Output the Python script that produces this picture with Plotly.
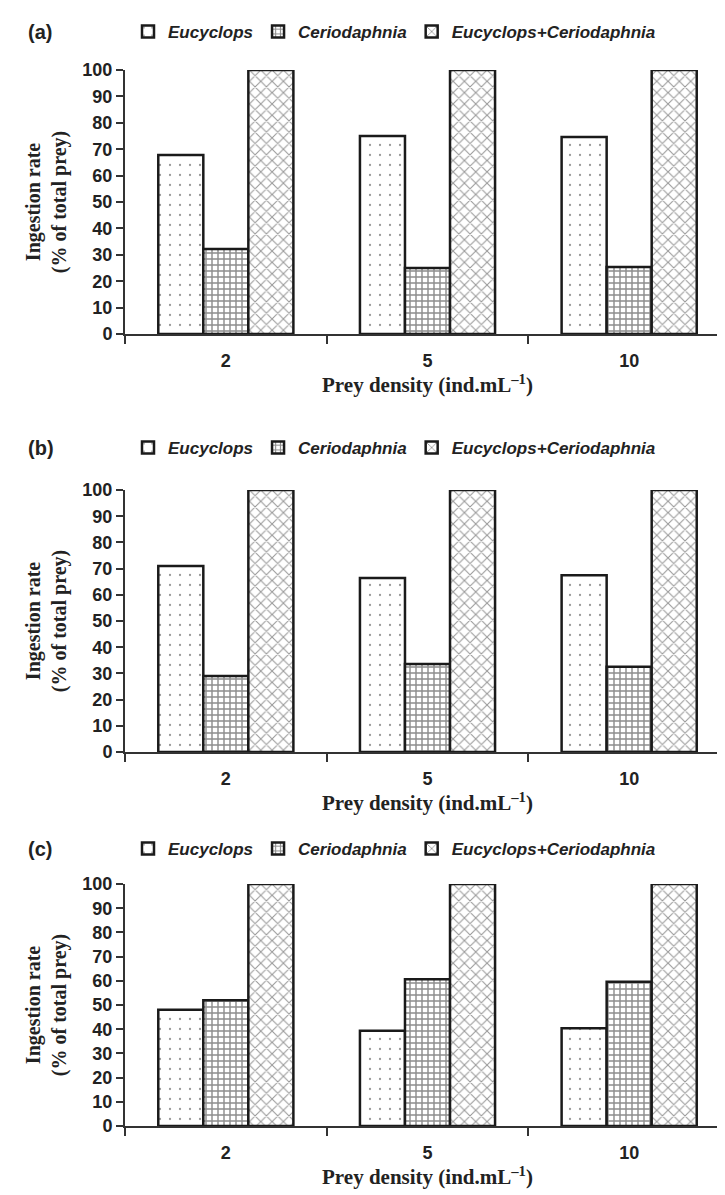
import plotly.graph_objects as go

W, H = 725, 1195

categories = ["2", "5", "10"]
series_names = ["Eucyclops", "Ceriodaphnia", "Eucyclops+Ceriodaphnia"]

a_eucyclops = [67.8, 75.0, 74.6]
a_ceriodaphnia = [32.2, 25.0, 25.4]
a_combined = [100, 100, 100]

b_eucyclops = [71.0, 66.4, 67.5]
b_ceriodaphnia = [29.0, 33.6, 32.5]
b_combined = [100, 100, 100]

c_eucyclops = [48.0, 39.4, 40.4]
c_ceriodaphnia = [52.0, 60.6, 59.6]
c_combined = [100, 100, 100]

panel_labels = ["(a)", "(b)", "(c)"]
y_tickvals = list(range(0, 101, 10))

panels_data = [
    [a_eucyclops, a_ceriodaphnia, a_combined],
    [b_eucyclops, b_ceriodaphnia, b_combined],
    [c_eucyclops, c_ceriodaphnia, c_combined],
]

# pixel layout (top of plot, bottom of plot, legend centre line)
panel_px = [
    dict(top=62, bottom=326, leg=24),
    dict(top=482, bottom=744, leg=440),
    dict(top=876, bottom=1118, leg=841),
]
x_left, x_right = 117, 722

SANS = "Liberation Sans, Arial, sans-serif"
SERIF = "Liberation Serif, Times New Roman, serif"

patterns = [
    dict(shape=".", size=10, solidity=0.04, fgcolor="#333", bgcolor="white"),
    dict(shape="+", size=6, solidity=0.42, fgcolor="#1a1a1a", bgcolor="white"),
    dict(shape="x", size=8, solidity=0.25, fgcolor="#333", bgcolor="white"),
]


def py(p):
    return 1 - p / H


fig = go.Figure()
layout = dict(
    width=W, height=H,
    margin=dict(l=0, r=0, t=0, b=0),
    paper_bgcolor="white", plot_bgcolor="white",
    barmode="group", bargap=0.33, bargroupgap=0,
    showlegend=True,
    annotations=[],
)

for i, vals in enumerate(panels_data):
    suf = "" if i == 0 else str(i + 1)
    for j, name in enumerate(series_names):
        fig.add_trace(go.Bar(
            x=categories, y=vals[j], name=name,
            xaxis="x" + suf, yaxis="y" + suf,
            legend="legend" + suf,
            marker=dict(color="white", line=dict(color="#1a1a1a", width=2.5),
                        pattern=patterns[j]),
            hoverinfo="skip",
        ))
    p = panel_px[i]
    layout["xaxis" + suf] = dict(
        domain=[x_left / W, x_right / W], anchor="y" + suf,
        type="category", tickson="boundaries",
        ticks="outside", ticklen=8, tickwidth=2, tickcolor="#333",
        ticklabelstandoff=9,
        showline=True, linewidth=2, linecolor="#333",
        showgrid=False, zeroline=False, automargin=False,
        tickfont=dict(family=SANS, size=18, color="#222", weight="bold"),
        title=dict(text="Prey density (ind.mL<sup>\u20131</sup>)", standoff=5,
                   font=dict(family=SERIF, size=21, color="#222", weight="bold")),
    )
    layout["yaxis" + suf] = dict(
        domain=[py(p["bottom"]), py(p["top"])], anchor="x" + suf,
        range=[0, 100], tickvals=y_tickvals,
        ticks="outside", ticklen=7, tickwidth=2, tickcolor="#333",
        showline=True, linewidth=2, linecolor="#333",
        showgrid=False, zeroline=False, automargin=False,
        tickfont=dict(family=SANS, size=18, color="#222", weight="bold"),
        title=dict(text="Ingestion rate<br>(% of total prey)", standoff=10,
                   font=dict(family=SERIF, size=20, color="#222", weight="bold")),
    )
    layout["legend" + suf] = dict(
        orientation="h", x=120 / W, xanchor="left",
        y=py(p["leg"]), yanchor="middle",
        font=dict(family=SANS, size=17, color="#222", weight="bold", style="italic"),
        bgcolor="rgba(0,0,0,0)", itemwidth=30, tracegroupgap=0,
    )
    layout["annotations"].append(dict(
        text=panel_labels[i], xref="paper", yref="paper",
        x=18 / W, y=py(p["leg"]), xanchor="left", yanchor="middle",
        showarrow=False,
        font=dict(family=SANS, size=20, color="#222", weight="bold"),
    ))

fig.update_layout(**layout)
fig.write_html("out.html")
